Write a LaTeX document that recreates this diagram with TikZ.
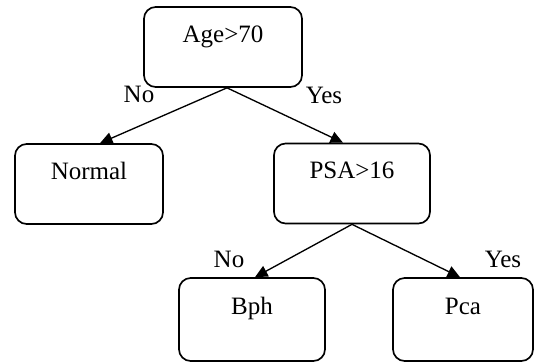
\documentclass[tikz,border=0pt]{standalone}
\usepackage{fontspec}
\setmainfont{Liberation Serif}
\usetikzlibrary{arrows.meta}
\begin{document}
\begin{tikzpicture}[x=0.6pt,y=-0.6pt,
    decision/.style={draw, line width=1pt, rounded corners=7pt, inner xsep=0pt, inner ysep=10pt,
        text height=11pt, text depth=17pt, font=\fontsize{15}{18}\selectfont},
    branch/.style={line width=0.8pt, -{Triangle[length=7.5pt,width=7pt]}},
    answer/.style={inner sep=0pt, font=\fontsize{15}{18}\selectfont}]
    \useasboundingbox (0,0) rectangle (535,363);
    % Below nodes are the boxes.
        \node[decision, minimum width=94.8pt] (age) at (223,47) {Age>70};
        \node[decision, minimum width=88.8pt] (normal) at (89,184) {Normal};
        \node[decision, minimum width=93.6pt] (psa) at (352,183.5) {PSA>16};
        \node[decision, minimum width=87.6pt, minimum height=49.8pt] (bph) at (252,319.5) {Bph};
        \node[decision, minimum width=84pt, minimum height=49.8pt] (pca) at (463,319.5) {Pca};
    % This draws the branches.
        \draw[branch] ([xshift=2.4pt]age.south) -- ([xshift=6.6pt]normal.north);
        \draw[branch] ([xshift=2.4pt]age.south) -- ([xshift=-5.4pt]psa.north);
        \draw[branch] (psa.south) -- ([xshift=1.8pt]bph.north);
        \draw[branch] (psa.south) -- ([xshift=-1.8pt]pca.north);
    % Below nodes are the labels.
        \node[answer] (no1) at (139,94) {No};
        \node[answer] (yes1) at (324,95) {Yes};
        \node[answer] (no2) at (229,259) {No};
        \node[answer] (yes2) at (503,259) {Yes};
\end{tikzpicture}
\end{document}
